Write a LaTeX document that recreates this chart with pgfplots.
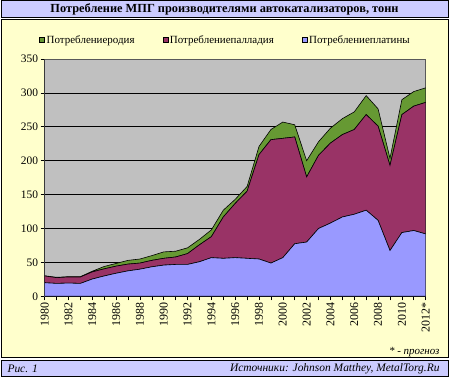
\documentclass[border=0pt]{standalone}
\usepackage{fontspec}
\setmainfont{Liberation Serif}
\usepackage{pgfplots}
\pgfplotsset{compat=1.18}
\usepackage{pgfplotstable}
\definecolor{plat}{HTML}{9999FF}
\definecolor{pall}{HTML}{993366}
\definecolor{rhod}{HTML}{669933}
\definecolor{panel}{HTML}{FFFFCC}
\definecolor{band}{HTML}{CCCCFF}
\definecolor{plotbg}{HTML}{C0C0C0}
\pgfplotstableread{
year pt pd rh
1980 20 10 0.3
1981 19 8.5 0.5
1982 19.5 9 0.5
1983 19 9.5 0.5
1984 25.5 10.5 1
1985 30 10.5 3.5
1986 34 10.5 4
1987 37.5 10 5.5
1988 40 9 6
1989 43.5 9.5 7
1990 46 10 9.5
1991 47 11 8.5
1992 47 16 8.5
1993 51 25 8
1994 57 31 10
1995 56 61 10
1996 57 80 6
1997 56 99 7
1998 55 154 12
1999 49 182 15
2000 57 176 24
2001 77.5 157.5 18
2002 80 96 24
2003 100 108 20
2004 108 118 22
2005 117 121.5 23.5
2006 121 125 26
2007 127 141 28
2008 112 139 25.5
2009 67.5 125.5 10.5
2010 94 174 22
2011 97 183.5 21.5
2012 92 194 21.5
}\data
\begin{document}
\begin{tikzpicture}
\path (0bp,0bp) rectangle (449bp,379bp);
\filldraw[fill=band,draw=black,line width=0.8bp] (1bp,362bp) rectangle (448bp,378.3bp);
\node[font=\bfseries\fontsize{12.4}{13}\selectfont] at (224.5bp,369.7bp) {Потребление МПГ производителями автокатализаторов, тонн};
\filldraw[fill=panel,draw=black,line width=0.8bp] (1bp,21.3bp) rectangle (448bp,360bp);
\filldraw[fill=band,draw=black,line width=0.8bp] (1bp,2.5bp) rectangle (448bp,19bp);
\node[font=\itshape\fontsize{11}{12}\selectfont,anchor=east] at (443bp,27.3bp) {* - прогноз};
\node[font=\itshape\fontsize{11.5}{12}\selectfont,anchor=west] at (4bp,10.5bp) {Рис. 1};
\node[font=\itshape\fontsize{11.5}{12}\selectfont,anchor=east] at (443bp,10.5bp) {Источники: Johnson Matthey, MetalTorg.Ru};
\begin{axis}[
  at={(44.7bp,82.7bp)}, anchor=south west,
  scale only axis, width=381bp, height=237.3bp,
  xmin=1980, xmax=2012, ymin=0, ymax=350,
  stack plots=y,
  axis background/.style={fill=plotbg},
  axis line style={draw=gray!70!black, line width=0.6bp},
  ytick={0,50,...,350},
  ymajorgrids, grid style={black, line width=0.6bp},
  xtick={1980,1982,...,2012},
  xticklabels={1980,1982,1984,1986,1988,1990,1992,1994,1996,1998,2000,2002,2004,2006,2008,2010,2012*},
  minor xtick={1981,1983,...,2011},
  tick align=outside, xtick pos=bottom, ytick pos=left,
  major tick length=4bp, minor tick length=4bp,
  tick style={black, line width=0.6bp},
  xticklabel style={rotate=90, anchor=east, font=\fontsize{12}{13}\selectfont, inner sep=2bp},
  yticklabel style={font=\fontsize{11.5}{12}\selectfont, inner sep=2.5bp},
  /pgf/number format/assume math mode=true,
  reverse legend,
  legend columns=3,
  legend style={at={(axis description cs:0.4746,1)}, anchor=south, yshift=10bp, draw=none, fill=none,
    font=\fontsize{11}{12}\selectfont, /tikz/every even column/.append style={column sep=26bp}},
  legend image code/.code={\draw[#1,draw=black,line width=0.4bp] (0bp,-2.5bp) rectangle (5bp,2.5bp);},
]
\addplot[fill=plat, draw=black, line width=0.6bp] table[x=year,y=pt] {\data} \closedcycle;
\addlegendentry{Потреблениеплатины}
\addplot[fill=pall, draw=black, line width=0.6bp] table[x=year,y=pd] {\data} \closedcycle;
\addlegendentry{Потреблениепалладия}
\addplot[fill=rhod, draw=black, line width=0.6bp] table[x=year,y=rh] {\data} \closedcycle;
\addlegendentry{Потреблениеродия}
\draw[black, line width=0.6bp] (rel axis cs:0,0) -- (rel axis cs:0,1);
\draw[black, line width=0.6bp] (rel axis cs:0,0) -- (rel axis cs:1,0);
\end{axis}
\end{tikzpicture}
\end{document}
